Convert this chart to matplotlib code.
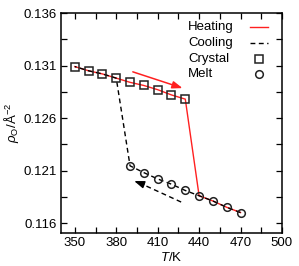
import numpy as np
import matplotlib.pyplot as plt

plt.rcParams['font.family'] = ['Liberation Sans', 'DejaVu Sans']
plt.rcParams['mathtext.fontset'] = 'custom'
plt.rcParams['mathtext.rm'] = 'Liberation Sans'
plt.rcParams['mathtext.it'] = 'Liberation Sans:italic'

# crystal branch
T_crystal = np.array([350, 360, 370, 380, 390, 400, 410, 420, 430])
rho_crystal = np.array([0.1309, 0.1305, 0.1302, 0.1298, 0.1294, 0.1291, 0.1287, 0.1282, 0.1278])

# melt branch
T_melt = np.array([390, 400, 410, 420, 430, 440, 450, 460, 470])
rho_melt = np.array([0.12145, 0.1208, 0.1202, 0.1197, 0.1191, 0.1186, 0.1181, 0.1175, 0.1170])

# heating: crystal up to 430, jump to melt at 440
T_heat = np.concatenate([T_crystal, T_melt[5:]])
rho_heat = np.concatenate([rho_crystal, rho_melt[5:]])

# cooling: melt down to 390, jump to crystal at 380
T_cool = np.concatenate([T_melt[::-1], T_crystal[3::-1]])
rho_cool = np.concatenate([rho_melt[::-1], rho_crystal[3::-1]])

legend_labels = ['Heating', 'Cooling', 'Crystal', 'Melt']

fig = plt.figure(figsize=(2.99, 2.66), dpi=100)
ax = fig.add_axes([0.204, 0.124, 0.739, 0.827])

fs = 9.5
red = '#ff2020'
dash = (0, (3.5, 2.5))
sq = dict(marker='s', ms=5.5, mfc='none', mec='#222222', mew=1.1)
ci = dict(marker='o', ms=5.5, mfc='none', mec='#222222', mew=1.1)

ax.plot(T_heat, rho_heat, color=red, lw=1.0, zorder=2)
ax.plot(T_cool, rho_cool, color='black', lw=1.0, ls=dash, zorder=3)
ax.plot(T_crystal, rho_crystal, ls='none', zorder=4, **sq)
ax.plot(T_melt, rho_melt, ls='none', zorder=4, **ci)

# heating arrow
ax.annotate('', xy=(428, 0.12885), xytext=(392, 0.1304),
            arrowprops=dict(arrowstyle='-|>,head_length=0.6,head_width=0.22',
                            color=red, lw=1.1, shrinkA=0, shrinkB=0))
# cooling arrow (dashed shaft, solid head)
ax.plot([427, 398], [0.1180, 0.11975], color='black', lw=1.0, ls=dash)
ax.annotate('', xy=(393, 0.1200), xytext=(400, 0.11966),
            arrowprops=dict(arrowstyle='-|>,head_length=0.6,head_width=0.22',
                            color='black', lw=1.0, shrinkA=0, shrinkB=0))

# key, gnuplot style: labels left-aligned, samples on the right
rows = [0.936, 0.864, 0.791, 0.723]
for lab, yy in zip(legend_labels, rows):
    ax.text(0.575, yy, lab, transform=ax.transAxes, fontsize=fs, ha='left', va='center')
tr = ax.transAxes
ax.plot([0.855, 0.935], [rows[0]] * 2, color=red, lw=1.0, transform=tr)
ax.plot([0.855, 0.935], [rows[1]] * 2, color='black', lw=1.0, ls=dash, transform=tr)
ax.plot([0.896], [rows[2]], transform=tr, ls='none', **sq)
ax.plot([0.896], [rows[3]], transform=tr, ls='none', **ci)

ax.set_xlim(340, 500)
ax.set_ylim(0.11505, 0.136)
ax.set_xticks([350, 380, 410, 440, 470, 500])
ax.set_xticks(np.arange(365, 500, 30), minor=True)
ax.set_yticks([0.116, 0.121, 0.126, 0.131, 0.136])
ax.set_yticks([0.1185, 0.1235, 0.1285, 0.1335], minor=True)
ax.tick_params(which='both', direction='in', top=True, right=True, labelsize=fs,
               width=0.9, pad=3, length=4.5)
for s in ax.spines.values():
    s.set_linewidth(1.1)

ax.set_xlabel(r'$\mathit{T}$/K', fontsize=fs, labelpad=1)
ax.set_ylabel(r'$\rho_\mathrm{O}$/$\mathrm{\AA}^{-2}$', fontsize=fs, labelpad=2)

fig.savefig('out.png', dpi=100)
